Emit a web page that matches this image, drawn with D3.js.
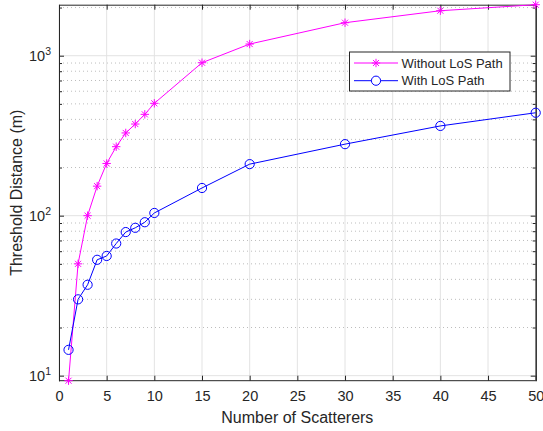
<!DOCTYPE html>
<html><head><meta charset="utf-8">
<script src="https://cdn.jsdelivr.net/npm/d3@7"></script>
<style>
body{margin:0;background:#fff}
text{font-family:"Liberation Sans",Arial,Helvetica,sans-serif;fill:#262626}
</style>
</head><body>
<svg id="c" width="543" height="431"></svg>
<script>
const scatterers = [1,2,3,4,5,6,7,8,9,10,15,20,30,40,50];
const withoutLoS = [9.3,50,100,153,212,270,329,374,430,504,904,1183,1608,1911,2084];
const withLoS    = [14.5,30,37,53,56,67,79,84,91,104,149,210,280,364,440];
const xTicks = [0,5,10,15,20,25,30,35,40,45,50];
const yTicks = [10,100,1000];
const yExp = ["1","2","3"];
const seriesNames = ["Without LoS Path","With LoS Path"];
const seriesColors = ["#ff00ff","#0000ff"];

const L=59, R=535.7, T=4.7, B=380.7;
const svg = d3.select("#c");
const x = d3.scaleLinear().domain([0,50]).range([L,R]);
const allY = withoutLoS.concat(withLoS);
const y = d3.scaleLog().domain(d3.extent(allY)).range([B,T]);

// minor grid values
const minor = [];
for (let e=0;e<=3;e++) for (let m=2;m<=9;m++){const v=m*Math.pow(10,e); if(v>=y.domain()[0]&&v<=y.domain()[1]) minor.push(v);}

const g = svg.append("g");
// minor dotted grid
g.selectAll(".mg").data(minor).enter().append("line")
  .attr("x1",L).attr("x2",R).attr("y1",d=>y(d)).attr("y2",d=>y(d))
  .attr("stroke","#bdbdbd").attr("stroke-width",1).attr("stroke-dasharray","1,3");
// major grid
g.selectAll(".xg").data(xTicks).enter().append("line")
  .attr("x1",d=>x(d)).attr("x2",d=>x(d)).attr("y1",T).attr("y2",B)
  .attr("stroke","#e3e3e3").attr("stroke-width",1);
g.selectAll(".yg").data(yTicks).enter().append("line")
  .attr("x1",L).attr("x2",R).attr("y1",d=>y(d)).attr("y2",d=>y(d))
  .attr("stroke","#e3e3e3").attr("stroke-width",1);

// axes
const ax = svg.append("g");
const xb = ax.append("g").attr("transform",`translate(0,${B})`)
  .call(d3.axisBottom(x).tickValues(xTicks).tickSizeInner(-5).tickSizeOuter(0).tickPadding(10).tickFormat(d3.format("d")));
const xt = ax.append("g").attr("transform",`translate(0,${T})`)
  .call(d3.axisTop(x).tickValues(xTicks).tickSizeInner(-5).tickSizeOuter(0).tickFormat(""));
const yl = ax.append("g").attr("transform",`translate(${L},0)`)
  .call(d3.axisLeft(y).tickValues(yTicks).tickSizeInner(-5).tickSizeOuter(0).tickFormat(""));
const yr = ax.append("g").attr("transform",`translate(${R},0)`)
  .call(d3.axisRight(y).tickValues(yTicks).tickSizeInner(-5).tickSizeOuter(0).tickFormat(""));
const ylm = ax.append("g").attr("transform",`translate(${L},0)`)
  .call(d3.axisLeft(y).tickValues(minor).tickSizeInner(-3).tickSizeOuter(0).tickFormat(""));
const yrm = ax.append("g").attr("transform",`translate(${R},0)`)
  .call(d3.axisRight(y).tickValues(minor).tickSizeInner(-3).tickSizeOuter(0).tickFormat(""));
ax.selectAll(".domain").attr("stroke","#262626").attr("stroke-width",1);
ax.selectAll(".tick line").attr("stroke","#262626").attr("stroke-width",1);
xb.selectAll("text").attr("font-size","14.5px").attr("fill","#262626")
  .style("font-family","'Liberation Sans',Arial,sans-serif");
xb.select(".domain").attr("d",`M${L},0H${R}`);

// y tick labels with superscript
const ylab = svg.append("g");
yTicks.forEach((v,i)=>{
  const t = ylab.append("text").attr("x",51).attr("y",y(v)+5.5).attr("text-anchor","end").attr("font-size","14.5px");
  t.append("tspan").text("10");
  t.append("tspan").attr("dy",-6).attr("font-size","10.5px").text(yExp[i]);
});

// lines
const line = d3.line().x(d=>x(d[0])).y(d=>y(d[1]));
const data1 = scatterers.map((s,i)=>[s,withoutLoS[i]]);
const data2 = scatterers.map((s,i)=>[s,withLoS[i]]);
svg.append("path").datum(data1).attr("d",line).attr("fill","none").attr("stroke",seriesColors[0]).attr("stroke-width",1);
svg.append("path").datum(data2).attr("d",line).attr("fill","none").attr("stroke",seriesColors[1]).attr("stroke-width",1);

function star(sel, cx, cy, col){
  const r=4.2, d=r*0.72;
  const p=`M${cx-r},${cy}H${cx+r}M${cx},${cy-r}V${cy+r}M${cx-d},${cy-d}L${cx+d},${cy+d}M${cx-d},${cy+d}L${cx+d},${cy-d}`;
  sel.append("path").attr("d",p).attr("stroke",col).attr("stroke-width",1).attr("fill","none");
}
const m1 = svg.append("g");
data1.forEach(d=>star(m1,x(d[0]),y(d[1]),seriesColors[0]));
svg.append("g").selectAll("circle").data(data2).enter().append("circle")
  .attr("cx",d=>x(d[0])).attr("cy",d=>y(d[1])).attr("r",4.6)
  .attr("fill","none").attr("stroke",seriesColors[1]).attr("stroke-width",1);

// axis labels
svg.append("text").attr("x",(L+R)/2).attr("y",423).attr("text-anchor","middle").attr("font-size","16px").text("Number of Scatterers");
svg.append("text").attr("transform",`translate(22,${(T+B)/2}) rotate(-90)`).attr("text-anchor","middle").attr("font-size","16px").text("Threshold Distance (m)");

// legend
const lg = svg.append("g");
lg.append("rect").attr("x",349.5).attr("y",52).attr("width",160.5).attr("height",39)
  .attr("fill","#fff").attr("stroke","#262626").attr("stroke-width",1);
const ly = [63,80.7];
seriesNames.forEach((n,i)=>{
  lg.append("line").attr("x1",354).attr("x2",398).attr("y1",ly[i]).attr("y2",ly[i]).attr("stroke",seriesColors[i]).attr("stroke-width",1);
  if(i===0) star(lg,376,ly[i],seriesColors[i]);
  else lg.append("circle").attr("cx",376).attr("cy",ly[i]).attr("r",4.6).attr("fill","#fff").attr("stroke",seriesColors[i]).attr("stroke-width",1);
  lg.append("text").attr("x",401.5).attr("y",ly[i]+4.6).attr("font-size","13px").text(n);
});
</script>
</body></html>
